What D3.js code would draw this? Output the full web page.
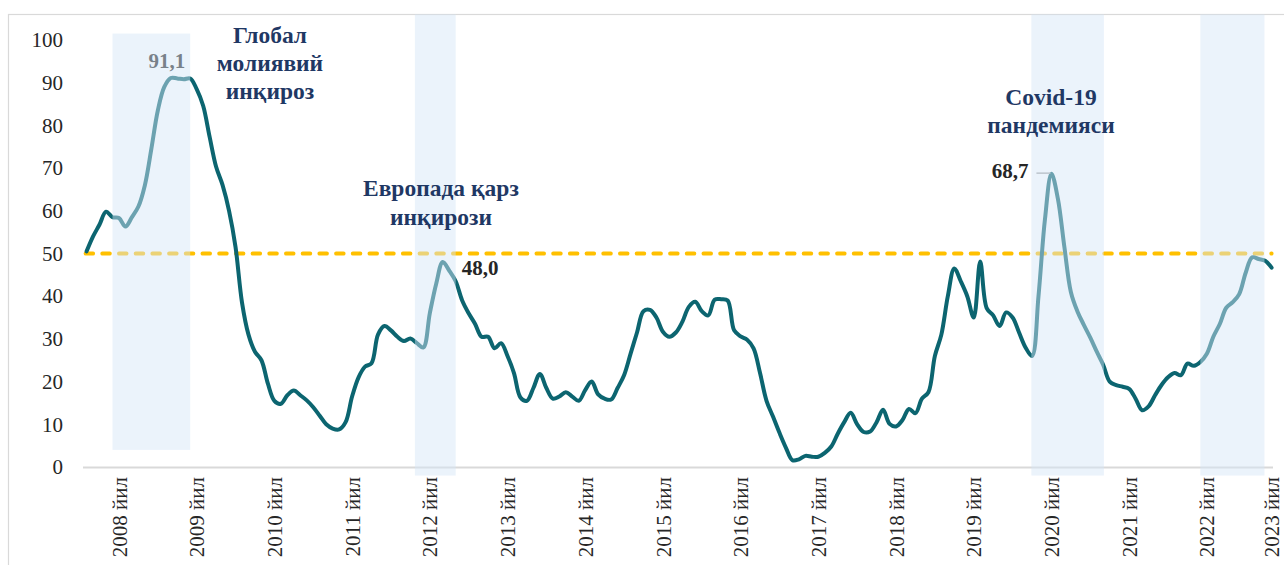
<!DOCTYPE html>
<html>
<head>
<meta charset="utf-8">
<script src="https://cdn.jsdelivr.net/npm/d3@7"></script>
<style>
  html, body { margin: 0; padding: 0; background: #ffffff; }
  svg { display: block; }
  svg text { font-family: "Liberation Serif", "Times New Roman", serif; }
</style>
</head>
<body>
<svg id="chart" width="1284" height="565"></svg>
<script>
// ---- DATA ----
// Monthly index values, first month = August 2007, last = November 2022
const startMonth = "2007-08";
const values = [
  50.5, 54, 56.8, 59.8, 58.5, 58.3, 56.3, 58.5, 61, 66, 74.5, 83.5, 89, 91.1, 91.0, 90.8, 91.0,
  88.5, 84.6, 77.3, 70.3, 66, 60, 51.5, 38.5, 31, 27, 25, 19.5,
  15.5, 14.8, 16.8, 17.9, 16.8, 15.6, 14, 12, 10, 9, 8.8, 10.5,
  16.5, 21, 23.5, 24.3, 31, 33, 32, 30.5, 29.5, 30.1, 29, 28,
  36, 43, 48.0, 46, 43.5, 39, 36, 33.5, 30.5, 30.5, 27.8, 29,
  26, 22, 16.3, 15.5, 18.5, 21.8, 18.5, 16, 16.5, 17.5, 16.5, 15.5,
  18, 20, 17, 16, 15.8, 18.5, 21.5, 26.5, 31.5, 36.5, 36.8, 35,
  31.7, 30.5, 31.5, 34, 37.5, 38.7, 36.5, 35.5, 39.2, 39.3, 39, 32,
  30.6, 29.8, 27.8, 22, 15.5, 11.8, 8, 4.5, 1.6, 1.8, 2.6, 2.4,
  2.4, 3.3, 4.8, 7.8, 10.5, 12.7, 10, 8.2, 8.3, 10.5, 13.4, 10.1,
  9.5, 11, 13.6, 12.6, 16, 17.5, 26, 31, 40, 46.5, 43.5, 40,
  35, 48.1, 37.2, 35.5, 33, 36.2, 35, 31.5, 28, 26, 40, 58,
  68.7, 62.8, 51.5, 41, 36.5, 33.3, 30.3, 27, 23.9, 20, 19.2, 18.8,
  18.3, 16, 13.3, 14.2, 16.8, 19.2, 21, 22, 21.5, 24.2, 23.7, 24.6,
  26.5, 30.5, 33.5, 37.3, 38.6, 40.5, 45.5, 49.1, 48.7, 48.3, 46.7
];
const threshold = 50;
const yTicks = [0, 10, 20, 30, 40, 50, 60, 70, 80, 90, 100];
// month index of each x label
const xTickMonths = [5, 17, 29, 41, 53, 65, 77, 89, 101, 113, 125, 137, 149, 161, 173, 183];
const xTickLabels = ["2008 йил", "2009 йил", "2010 йил", "2011 йил", "2012 йил", "2013 йил",
  "2014 йил", "2015 йил", "2016 йил", "2017 йил", "2018 йил", "2019 йил", "2020 йил",
  "2021 йил", "2022 йил", "2023 йил"];
// crisis periods (month index from/to, value low/high)
const bandFrom = [4, 50.7, 145.9, 172];
const bandTo = [16, 57, 157.1, 181.9];
const bandLow = [4, -2, -2, -2];
const bandHigh = [101.5, 106, 106, 106];
// peak labels
const peakMonths = [13, 55, 149];
const peakLabels = ["91,1", "48,0", "68,7"];
// event annotations
const eventNames = [
  ["Глобал", "молиявий", "инқироз"],
  ["Европада қарз", "инқирози"],
  ["Covid-19", "пандемияси"]
];

// ---- CHART ----
const svg = d3.select("#chart");
const W = 1284, H = 565;
const x = d3.scaleLinear().domain([0, values.length - 1]).range([86.6, 1271.6]);
const y = d3.scaleLinear().domain([0, 100]).range([467, 40]);

const serif = "Liberation Serif";
const navy = "#1F3864";
const teal = "#0C6570";

// chart frame
svg.append("rect")
  .attr("x", 8.5).attr("y", 14.5)
  .attr("width", W + 10).attr("height", H + 10)
  .attr("fill", "none").attr("stroke", "#D9D9D9").attr("stroke-width", 1.2);

// y axis labels
const yAxis = d3.axisLeft(y).tickValues(yTicks).tickSize(0).tickPadding(0).tickFormat(d3.format("d"));
const gy = svg.append("g").attr("transform", "translate(63,0)").call(yAxis);
gy.attr("font-family", serif).attr("font-size", 21);
gy.select(".domain").remove();
gy.selectAll("text")
  .attr("font-family", serif).attr("font-size", 21).attr("fill", "#262626");

// x axis line at 0 and rotated labels
const xAxis = d3.axisBottom(x).tickValues(xTickMonths).tickSize(0)
  .tickFormat((d, i) => xTickLabels[i]);
const gx = svg.append("g").attr("transform", `translate(0,${y(0)})`).call(xAxis);
gx.attr("font-family", serif).attr("font-size", 21);
gx.select(".domain").remove();
svg.append("line")
  .attr("x1", 83).attr("x2", 1273).attr("y1", y(0) + 0.5).attr("y2", y(0) + 0.5)
  .attr("stroke", "#D9D9D9").attr("stroke-width", 2);
gx.selectAll(".tick text")
  .attr("font-family", serif).attr("font-size", 21).attr("fill", "#262626")
  .attr("text-anchor", "end")
  .attr("transform", "rotate(-90)")
  .attr("x", -10).attr("y", 0).attr("dy", "0.34em");

// threshold dashed line
svg.append("line")
  .attr("x1", x(0) - 1).attr("x2", x(values.length - 1))
  .attr("y1", y(threshold)).attr("y2", y(threshold))
  .attr("stroke", "#FFC000").attr("stroke-width", 4)
  .attr("stroke-linecap", "round")
  .attr("stroke-dasharray", "7.5 9.2");

// main line
const line = d3.line()
  .x((d, i) => x(i))
  .y(d => y(d))
  .curve(d3.curveCatmullRom.alpha(0.5));
svg.append("path")
  .datum(values)
  .attr("d", line)
  .attr("fill", "none")
  .attr("stroke", teal)
  .attr("stroke-width", 4)
  .attr("stroke-linejoin", "round")
  .attr("stroke-linecap", "round");

// peak labels
const peakDx = [-4, 19, -23];
const peakDy = [-10, 13, 4];
const peakAnchor = ["middle", "start", "end"];
peakMonths.forEach((m, k) => {
  svg.append("text")
    .attr("x", x(m) + peakDx[k])
    .attr("y", y(values[m]) + peakDy[k])
    .attr("text-anchor", peakAnchor[k])
    .attr("font-family", serif).attr("font-size", 21).attr("font-weight", "bold")
    .attr("fill", "#262626")
    .text(peakLabels[k]);
});
// leader line for covid peak
svg.append("line")
  .attr("x1", x(peakMonths[2]) - 15).attr("x2", x(peakMonths[2]) - 1)
  .attr("y1", y(values[peakMonths[2]]) - 0.5).attr("y2", y(values[peakMonths[2]]) - 0.5)
  .attr("stroke", "#A6A6A6").attr("stroke-width", 1.5);

// crisis shading (translucent, on top of lines)
bandFrom.forEach((f, k) => {
  svg.append("rect")
    .attr("x", x(f)).attr("width", x(bandTo[k]) - x(f))
    .attr("y", y(bandHigh[k])).attr("height", y(bandLow[k]) - y(bandHigh[k]))
    .attr("fill", "#D6E6F7").attr("fill-opacity", 0.48);
});

// event annotations
const evX = [270, 441, 1051];
const evY = [43, 195.5, 105];
const evLH = [28, 29, 28];
eventNames.forEach((lines, k) => {
  const t = svg.append("text")
    .attr("font-family", serif).attr("font-size", 23.5).attr("font-weight", "bold")
    .attr("fill", navy).attr("text-anchor", "middle");
  lines.forEach((s, j) => {
    t.append("tspan").attr("x", evX[k]).attr("y", evY[k] + j * evLH[k]).text(s);
  });
});
</script>
</body>
</html>
